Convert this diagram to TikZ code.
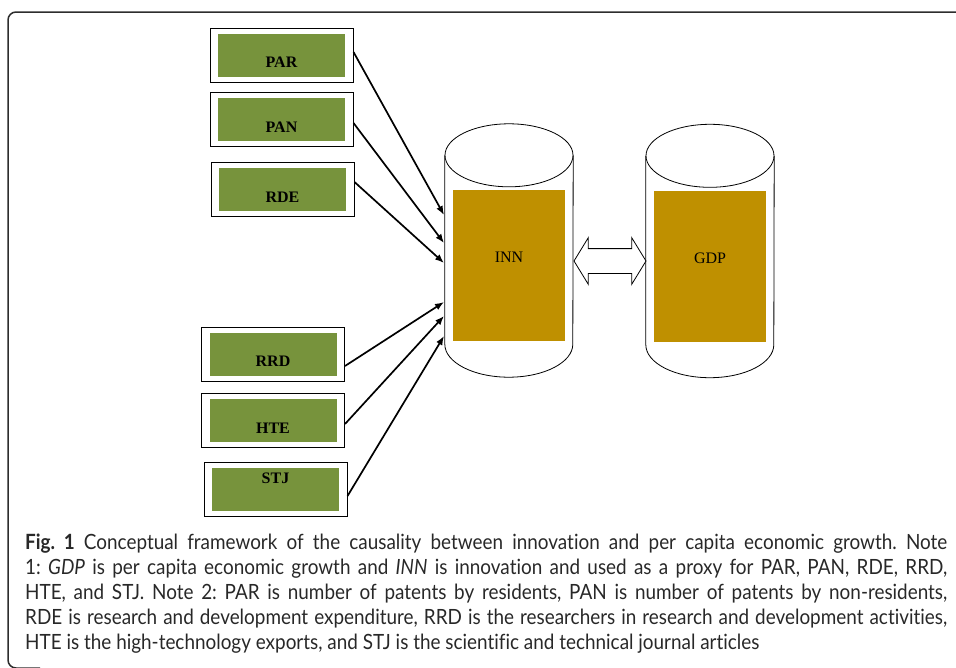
\documentclass[tikz,border=0pt]{standalone}
\usepackage{fontspec}
\setmainfont{Liberation Serif}
\newfontfamily\capfont[FakeStretch=0.9, Ligatures=NoCommon]{Lato}
\usetikzlibrary{shapes.arrows, arrows.meta}
\definecolor{boxgreen}{RGB}{119,147,60}
\definecolor{cylgold}{RGB}{191,144,0}
\definecolor{framegray}{RGB}{45,45,45}
\definecolor{capgray}{RGB}{40,40,40}

\tikzset{
	inbox/.style = {draw, fill=white, line width=1pt, minimum width=143pt, minimum height=54pt,
		inner sep=0pt, font=\fontsize{16}{16}\selectfont\bfseries, text height=25.6pt, text depth=0pt,
		path picture={\fill[boxgreen] ([shift={(8pt,5.5pt)}]path picture bounding box.south west)
			rectangle ([shift={(-8pt,-5.5pt)}]path picture bounding box.north east);}},
	drum/.style = {minimum width=128pt, minimum height=253pt, inner sep=0pt},
	fillbox/.style = {fill=cylgold, minimum width=112pt, minimum height=151pt, inner sep=0pt,
		font=\fontsize{16}{16}\selectfont, text height=0pt, text depth=6.4pt},
	link/.style = {double arrow, draw, fill=white, line width=0.8pt, inner sep=0pt,
		text height=12pt, text depth=12pt, minimum height=72pt,
		double arrow head extend=11pt, double arrow tip angle=117},
	arr/.style = {-{Latex[length=9pt, width=7pt]}, line width=1.7pt}
}

\begin{document}
\begin{tikzpicture}[x=1pt, y=-1pt]
	\useasboundingbox (0,0) rectangle (956,667);
	\clip (0,0) rectangle (956,667);
	\draw[framegray, line width=1.5pt, rounded corners=8pt] (960,12) -- (8,12) -- (8,668) -- (40,668);

	% inputs
	\node[inbox] (par) at (281.5,55) {PAR};
	\node[inbox] (pan) at (281.5,119.5) {PAN};
	\node[inbox] (rde) at (282.5,189.5) {RDE};
	\node[inbox] (rrd) at (273,354) {RRD};
	\node[inbox] (hte) at (273,420.5) {HTE};
	\node[inbox, text height=0pt, text depth=11.4pt] (stj) at (275.5,489) {STJ};

	% cylinders
	\node[drum] (inn) at (509,250.5) {};
	\node[drum] (gdp) at (710,251) {};
	\foreach \c in {inn, gdp} {
		\draw[line width=0.8pt] ([yshift=-31.5pt]\c.north west) -- ([yshift=33pt]\c.south west)
			arc[start angle=180, end angle=360, x radius=64pt, y radius=33pt]
			-- ([yshift=-31.5pt]\c.north east);
		\draw[line width=0.8pt] ([yshift=-31.5pt]\c.north) ellipse[x radius=64pt, y radius=31.5pt];
	}
	\node[fillbox] (innf) at (509,265.5) {INN};
	\node[fillbox] (gdpf) at (710,266.5) {GDP};
	\node[link] (both) at (610,261) {};

	\foreach \n/\y in {1/215, 2/243, 3/263, 4/302, 5/316, 6/336}
		\coordinate (in\n) at (444,\y);
	\path
		([yshift=3pt]par.east) edge[arr] (in1)
		([yshift=-3.5pt]pan.east) edge[arr] (in2)
		([yshift=7.5pt]rde.east) edge[arr] (in3)
		([yshift=-12pt]rrd.east) edge[arr] (in4)
		([yshift=-3.5pt]hte.east) edge[arr] (in5)
		([yshift=-7pt]stj.east) edge[arr] (in6) ;

	% caption
	\node[anchor=north west, inner sep=0pt, text width=922pt, align=justify, text=capgray,
		font=\capfont\fontsize{21}{25}\selectfont] (cap) at (25,533.5)
		{\frenchspacing\hyphenpenalty=10000\tolerance=9999{\bfseries Fig. 1} Conceptual framework of the causality between innovation and per capita economic growth. Note\linebreak
		1: \textit{GDP} is per capita economic growth and \textit{INN} is innovation and used as a proxy for PAR, PAN, RDE, RRD,\linebreak
		HTE, and STJ. Note 2: PAR is number of patents by residents, PAN is number of patents by non-residents,\linebreak
		RDE is research and development expenditure, RRD is the researchers in research and development activities,\linebreak
		HTE is the high-technology exports, and STJ is the scientific and technical journal articles\par};
\end{tikzpicture}
\end{document}
